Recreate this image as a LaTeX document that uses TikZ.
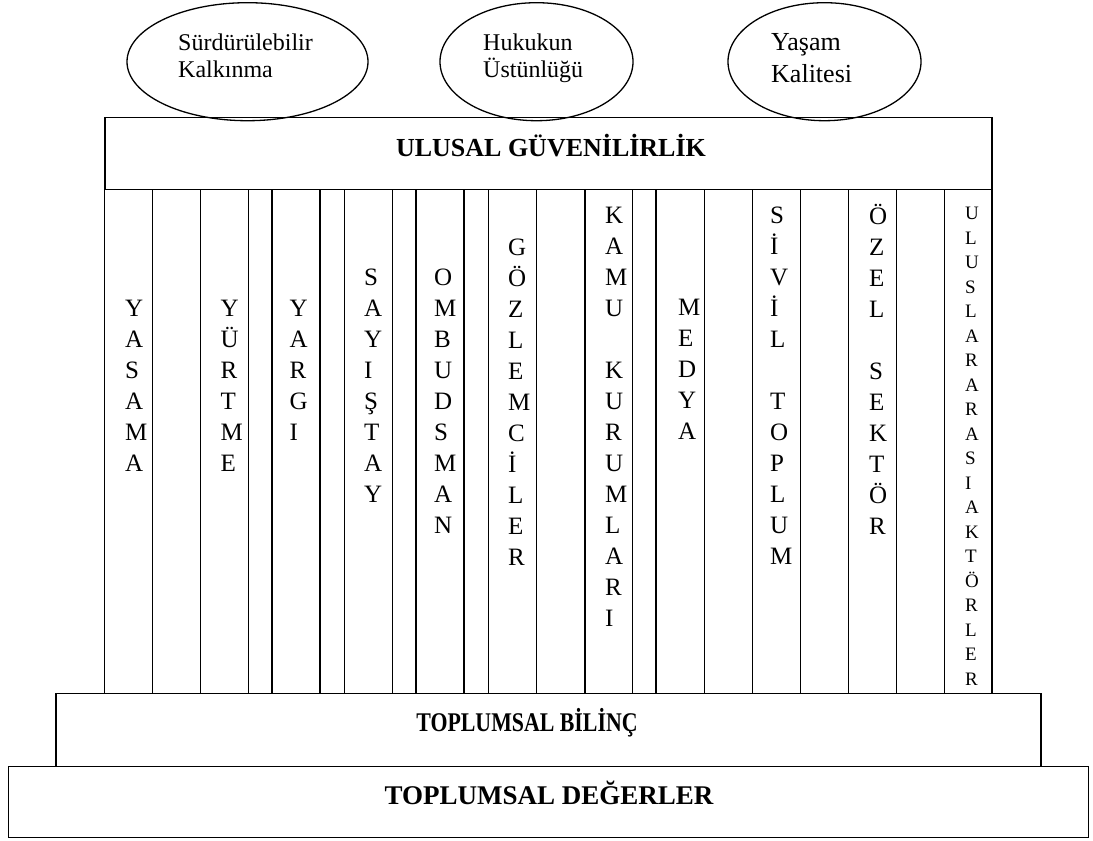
\documentclass[tikz,border=0pt]{standalone}
\usepackage{fontspec}
\usepackage{graphicx}
\setmainfont{Liberation Serif}
\usetikzlibrary{shapes.geometric}
\newcommand\vword[6][letter]{%
  \foreach \l [count=\i from 0] in {#6}
    \node[#1, anchor=base west] (#2-\i) at (#3, {#4+\i*#5}) {\l};%
}
\begin{document}
\begin{tikzpicture}[x=1pt, y=-1pt,
  letter/.style={inner sep=0pt, font=\fontsize{25}{30}\selectfont},
  smallletter/.style={inner sep=0pt, font=\fontsize{19}{23}\selectfont},
  etext/.style={inner sep=0pt, anchor=base west, font=\fontsize{24}{28}\selectfont},
  etextb/.style={inner sep=0pt, anchor=base west, font=\fontsize{26}{30}\selectfont},
  box/.style={draw, line width=1.6pt, inner sep=0pt},
  ell/.style={draw, ellipse, line width=1.3pt, inner sep=0pt},
  colline/.style={line width=1.4pt},
  title/.style={inner sep=0pt, anchor=base, font=\bfseries\fontsize{26}{30}\selectfont},
  titleb/.style={inner sep=0pt, anchor=base, font=\bfseries\fontsize{27}{31}\selectfont}
]
\useasboundingbox (0,0) rectangle (1093,841);

% boxes
\node[box, minimum width=887.3pt, minimum height=72.2pt] (hdr) at (548.35,153.4) {};
\node[box, minimum width=985pt, minimum height=73.2pt] (bil) at (548.5,729.9) {};
\node[box, minimum width=1080.2pt, minimum height=71pt] (deg) at (548.4,802) {};

% column lines
\foreach \x in {104.7,152.3,200.7,248.7,272,320,344.3,392.3,416,464,488.3,536.7,585,632.7,656,704.3,752.7,800.7,848.3,896.3,944.3,992}
  \draw[colline] (\x,189.5) -- (\x,693.3);

% ellipses
\node[ell, minimum width=241pt, minimum height=118pt] (e1) at (247.5,61.7) {};
\node[ell, minimum width=193pt, minimum height=118pt] (e2) at (536.5,61.7) {};
\node[ell, minimum width=193pt, minimum height=118pt] (e3) at (824.5,61.7) {};
\node[etext] (t1a) at (178,50) {Sürdürülebilir};
\node[etext] (t1b) at (178,77) {Kalkınma};
\node[etext] (t2a) at (483,50) {Hukukun};
\node[etext] (t2b) at (483,77) {Üstünlüğü};
\node[etextb] (t3a) at (771,50) {Yaşam};
\node[etextb] (t3b) at (771,82) {Kalitesi};

% titles
\node[title] (hdrt) at (551,156) {ULUSAL GÜVENİLİRLİK};
\node[titleb] (bilt) at (527,731) {\scalebox{0.81}[1]{TOPLUMSAL BİLİNÇ}};
\node[titleb] (degt) at (549,804) {TOPLUMSAL DEĞERLER};

% vertical words
\vword{w1}{125}{316.5}{31}{Y,A,S,A,M,A}
\vword{w2}{220.5}{316.5}{31}{Y,Ü,R,T,M,E}
\vword{w3}{289.5}{316.5}{31}{Y,A,R,G,I}
\vword{w4}{364}{285.5}{31}{S,A,Y,I,Ş,T,A,Y}
\vword{w5}{434}{285.5}{31}{O,M,B,U,D,S,M,A,N}
\vword{w6}{508}{255.5}{31}{G,Ö,Z,L,E,M,C,İ,L,E,R}
\vword{w7}{605}{223.5}{31}{K,A,M,U,{},K,U,R,U,M,L,A,R,I}
\vword{w8}{678}{315.5}{31}{M,E,D,Y,A}
\vword{w9}{770}{223.5}{31}{S,İ,V,İ,L,{},T,O,P,L,U,M}
\vword{w10}{869}{224}{31}{Ö,Z,E,L,{},S,E,K,T,Ö,R}
\vword[smallletter]{w11}{965}{219.5}{24.5}{U,L,U,S,L,A,R,A,R,A,S,I,A,K,T,Ö,R,L,E,R}
\end{tikzpicture}
\end{document}
